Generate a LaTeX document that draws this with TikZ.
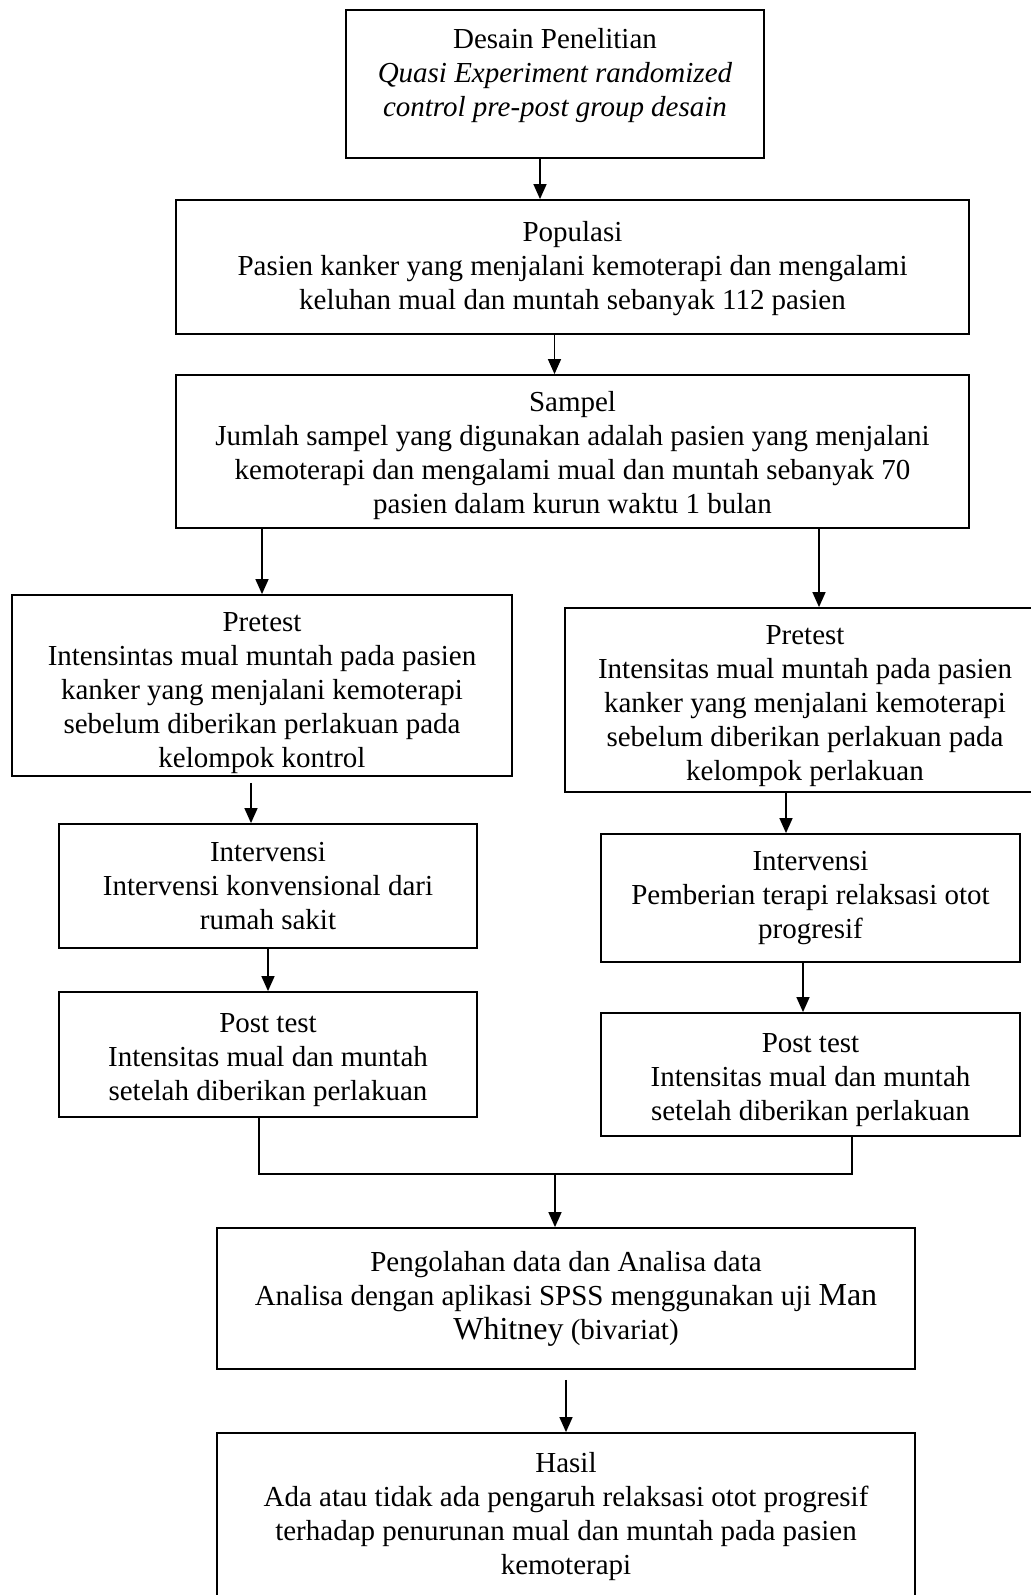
\documentclass[tikz,border=0pt]{standalone}
\usepackage{fontspec}
\setmainfont{Liberation Serif}
\usepackage{tikz}
\usetikzlibrary{arrows.meta, positioning}

\begin{document}
\begin{tikzpicture}[x=0.5pt, y=-0.5pt, >={Triangle[length=7.5pt, width=6.5pt]},
        box/.style={draw, line width=0.9pt, align=center, inner sep=0pt,
            font=\fontsize{14.5}{17}\selectfont},
        flow/.style={->, line width=0.7pt}]
        \useasboundingbox (0,0) rectangle (1030,1595);

        % Boxes
        \node[box, minimum width=209pt, minimum height=74pt] (desain) at (555,84)
            {Desain Penelitian\\ \textit{Quasi Experiment randomized}\\ \textit{control pre-post group desain}\\[-5pt] \mbox{}};
        \node[box, minimum width=396.5pt, minimum height=67pt] (populasi) at (572.5,267)
            {\rule{0pt}{12pt}Populasi\\ Pasien kanker yang menjalani kemoterapi dan mengalami\\ keluhan mual dan muntah sebanyak 112 pasien};
        \node[box, minimum width=396.5pt, minimum height=76.5pt] (sampel) at (572.5,451.5)
            {\rule{0pt}{14pt}Sampel\\ Jumlah sampel yang digunakan adalah pasien yang menjalani\\ kemoterapi dan mengalami mual dan muntah sebanyak 70\\ pasien dalam kurun waktu 1 bulan};
        \node[box, minimum width=250pt, minimum height=90.5pt] (preK) at (262,685.5)
            {\rule{0pt}{17pt}Pretest\\ Intensintas mual muntah pada pasien\\ kanker yang menjalani kemoterapi\\ sebelum diberikan perlakuan pada\\ kelompok kontrol};
        \node[box, minimum width=240pt, minimum height=92pt] (preP) at (805,700)
            {\rule{0pt}{16pt}Pretest\\ Intensitas mual muntah pada pasien\\ kanker yang menjalani kemoterapi\\ sebelum diberikan perlakuan pada\\ kelompok perlakuan};
        \node[box, minimum width=209pt, minimum height=62pt] (intK) at (268,886)
            {Intervensi\\ Intervensi konvensional dari\\ rumah sakit};
        \node[box, minimum width=209.5pt, minimum height=64pt] (intP) at (810.5,898)
            {Intervensi\\ Pemberian terapi relaksasi otot\\ progresif};
        \node[box, minimum width=209pt, minimum height=62.5pt] (postK) at (268,1054.5)
            {\rule{0pt}{15pt}Post test\\ Intensitas mual dan muntah\\ setelah diberikan perlakuan};
        \node[box, minimum width=209.5pt, minimum height=61.5pt] (postP) at (810.5,1074.5)
            {\rule{0pt}{15pt}Post test\\ Intensitas mual dan muntah\\ setelah diberikan perlakuan};
        \node[box, minimum width=349pt, minimum height=70.5pt] (olah) at (566,1298.5)
            {Pengolahan data dan Analisa data\\ Analisa dengan aplikasi SPSS menggunakan uji {\fontsize{16}{17}\selectfont Man}\\ {\fontsize{16}{17}\selectfont Whitney} (bivariat)};
        \node[box, minimum width=349pt, minimum height=94pt] (hasil) at (566,1527)
            {Hasil\\ Ada atau tidak ada pengaruh relaksasi otot progresif\\ terhadap penurunan mual dan muntah pada pasien\\ kemoterapi\\[-3pt] \mbox{}};

        \coordinate (join) at (555,1174);

        % Arrows
        \draw[flow] ([xshift=-7.5pt]desain.south) -- ([xshift=-7.5pt]desain.south |- populasi.north);
        \draw[flow] ([xshift=-9pt]populasi.south) -- ([xshift=-9pt]populasi.south |- sampel.north);
        \draw[flow] (sampel.south -| preK.north) -- (preK.north);
        \draw[flow] ([xshift=7pt]preP.north |- sampel.south) -- ([xshift=7pt]preP.north);
        \draw[flow, shorten <=3pt] ([xshift=-5.5pt]preK.south) -- ([xshift=-5.5pt]preK.south |- intK.north);
        \draw[flow] ([xshift=-9.5pt]preP.south) -- ([xshift=-9.5pt]preP.south |- intP.north);
        \draw[flow] (intK.south) -- (postK.north);
        \draw[flow] ([xshift=-3.75pt]intP.south) -- ([xshift=-3.75pt]intP.south |- postP.north);
        \draw[line width=0.6pt] ([xshift=-4.5pt]postK.south) |- (join) -| ([xshift=20.75pt]postP.south);
        \draw[flow] (join) -- (join |- olah.north);
        \draw[flow, shorten <=5pt] (olah.south) -- (hasil.north);
    \end{tikzpicture}
\end{document}
